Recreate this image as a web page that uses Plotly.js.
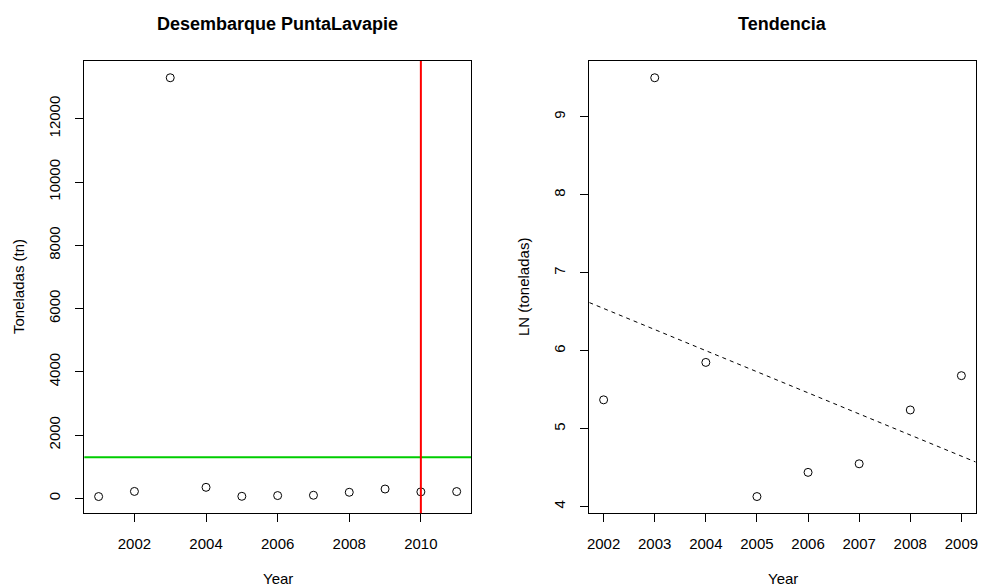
<!DOCTYPE html>
<html>
<head>
<meta charset="utf-8">
<script src="https://cdn.plot.ly/plotly-3.0.1.min.js"></script>
<style>html,body{margin:0;padding:0;background:#fff;}#chart{width:981px;height:587px;}</style>
</head>
<body>
<div id="chart"></div>
<script>
// ---- data ----
const years = [2001, 2002, 2003, 2004, 2005, 2006, 2007, 2008, 2009, 2010, 2011];
const tons = [54, 216, 13300, 346, 62, 85, 95, 189, 292, 202, 212];
const referenceLevel = 1300;          // horizontal green line (tn)
const markYear = 2010;                // vertical red line
const trendYears = [2002, 2003, 2004, 2005, 2006, 2007, 2008, 2009];
const lnTons = [5.37, 9.50, 5.85, 4.13, 4.44, 4.55, 5.24, 5.68];
const leftTicksX = [2002, 2004, 2006, 2008, 2010];
const leftTicksY = [0, 2000, 4000, 6000, 8000, 10000, 12000];
const rightTicksX = [2002, 2003, 2004, 2005, 2006, 2007, 2008, 2009];
const rightTicksY = [4, 5, 6, 7, 8, 9];

// R-style axis range (4% padding)
function rRange(v) {
  const mn = Math.min(...v), mx = Math.max(...v), d = (mx - mn) * 0.04;
  return [mn - d, mx + d];
}
// least squares fit
function fit(x, y) {
  const n = x.length;
  const mx = x.reduce((a, b) => a + b, 0) / n, my = y.reduce((a, b) => a + b, 0) / n;
  let sxy = 0, sxx = 0;
  for (let i = 0; i < n; i++) { sxy += (x[i] - mx) * (y[i] - my); sxx += (x[i] - mx) ** 2; }
  const b = sxy / sxx;
  return { a: my - b * mx, b: b };
}

const xr1 = rRange(years), yr1 = rRange(tons);
const xr2 = rRange(trendYears), yr2 = rRange(lnTons);
const lm = fit(trendYears, lnTons);

const W = 981, H = 587;
const FONT = '"Liberation Sans", Arial, Helvetica, sans-serif';
const px = v => v / W, py = v => 1 - v / H;

const marker = { symbol: 'circle-open', size: 8, color: '#000', line: { width: 1, color: '#000' } };

const traces = [
  { x: years, y: tons, type: 'scatter', mode: 'markers', marker: marker, xaxis: 'x', yaxis: 'y', hoverinfo: 'x+y' },
  { x: trendYears, y: lnTons, type: 'scatter', mode: 'markers', marker: marker, xaxis: 'x2', yaxis: 'y2', hoverinfo: 'x+y' }
];

const axBase = {
  showline: true, mirror: true, linecolor: '#000', linewidth: 1,
  showgrid: false, zeroline: false,
  ticks: 'outside', ticklen: 8, tickwidth: 1, tickcolor: '#000',
  tickfont: { family: FONT, size: 15, color: '#000' },
  automargin: false, fixedrange: true
};
const yDom = [1 - 513.3 / H, 1 - 61 / H];

const layout = {
  width: W, height: H,
  margin: { l: 0, r: 0, t: 0, b: 0 },
  paper_bgcolor: '#fff', plot_bgcolor: '#fff',
  showlegend: false,
  font: { family: FONT, size: 15, color: '#000' },
  xaxis: Object.assign({}, axBase, { domain: [px(84.3), px(471)], range: xr1, tickmode: 'array', tickvals: leftTicksX, ticktext: leftTicksX.map(String), ticklabelstandoff: 9, anchor: 'y' }),
  yaxis: Object.assign({}, axBase, { domain: yDom, range: yr1, tickmode: 'array', tickvals: leftTicksY, ticktext: leftTicksY.map(String), tickangle: -90, ticklabelstandoff: 9, anchor: 'x' }),
  xaxis2: Object.assign({}, axBase, { domain: [px(589.3), px(975.7)], range: xr2, tickmode: 'array', tickvals: rightTicksX, ticktext: rightTicksX.map(String), ticklabelstandoff: 9, anchor: 'y2' }),
  yaxis2: Object.assign({}, axBase, { domain: yDom, range: yr2, tickmode: 'array', tickvals: rightTicksY, ticktext: rightTicksY.map(String), tickangle: -90, ticklabelstandoff: 9, anchor: 'x2' }),
  shapes: [
    { type: 'line', xref: 'x domain', yref: 'y', x0: 0, x1: 1, y0: referenceLevel, y1: referenceLevel, line: { color: '#00CD00', width: 2 } },
    { type: 'line', xref: 'x', yref: 'y domain', x0: markYear, x1: markYear, y0: 0, y1: 1, line: { color: '#FF0000', width: 2 } },
    { type: 'line', xref: 'x2', yref: 'y2', x0: xr2[0], x1: xr2[1], y0: lm.a + lm.b * xr2[0], y1: lm.a + lm.b * xr2[1], line: { color: '#000', width: 1, dash: '4px,4px' } }
  ],
  annotations: [
    { text: '<b>Desembarque PuntaLavapie</b>', xref: 'paper', yref: 'paper', x: px(277.7), y: py(24), xanchor: 'center', yanchor: 'middle', showarrow: false, font: { family: FONT, size: 18, color: '#000' } },
    { text: '<b>Tendencia</b>', xref: 'paper', yref: 'paper', x: px(782.5), y: py(24), xanchor: 'center', yanchor: 'middle', showarrow: false, font: { family: FONT, size: 18, color: '#000' } },
    { text: 'Year', xref: 'paper', yref: 'paper', x: px(277.7), y: py(578), xanchor: 'center', yanchor: 'middle', showarrow: false, font: { family: FONT, size: 15, color: '#000' } },
    { text: 'Year', xref: 'paper', yref: 'paper', x: px(782.5), y: py(578), xanchor: 'center', yanchor: 'middle', showarrow: false, font: { family: FONT, size: 15, color: '#000' } },
    { text: 'Toneladas (tn)', xref: 'paper', yref: 'paper', x: px(18), y: py(287), xanchor: 'center', yanchor: 'middle', textangle: -90, showarrow: false, font: { family: FONT, size: 15, color: '#000' } },
    { text: 'LN (toneladas)', xref: 'paper', yref: 'paper', x: px(523), y: py(287), xanchor: 'center', yanchor: 'middle', textangle: -90, showarrow: false, font: { family: FONT, size: 15, color: '#000' } }
  ]
};

Plotly.newPlot('chart', traces, layout, { staticPlot: true, displayModeBar: false });
</script>
</body>
</html>
